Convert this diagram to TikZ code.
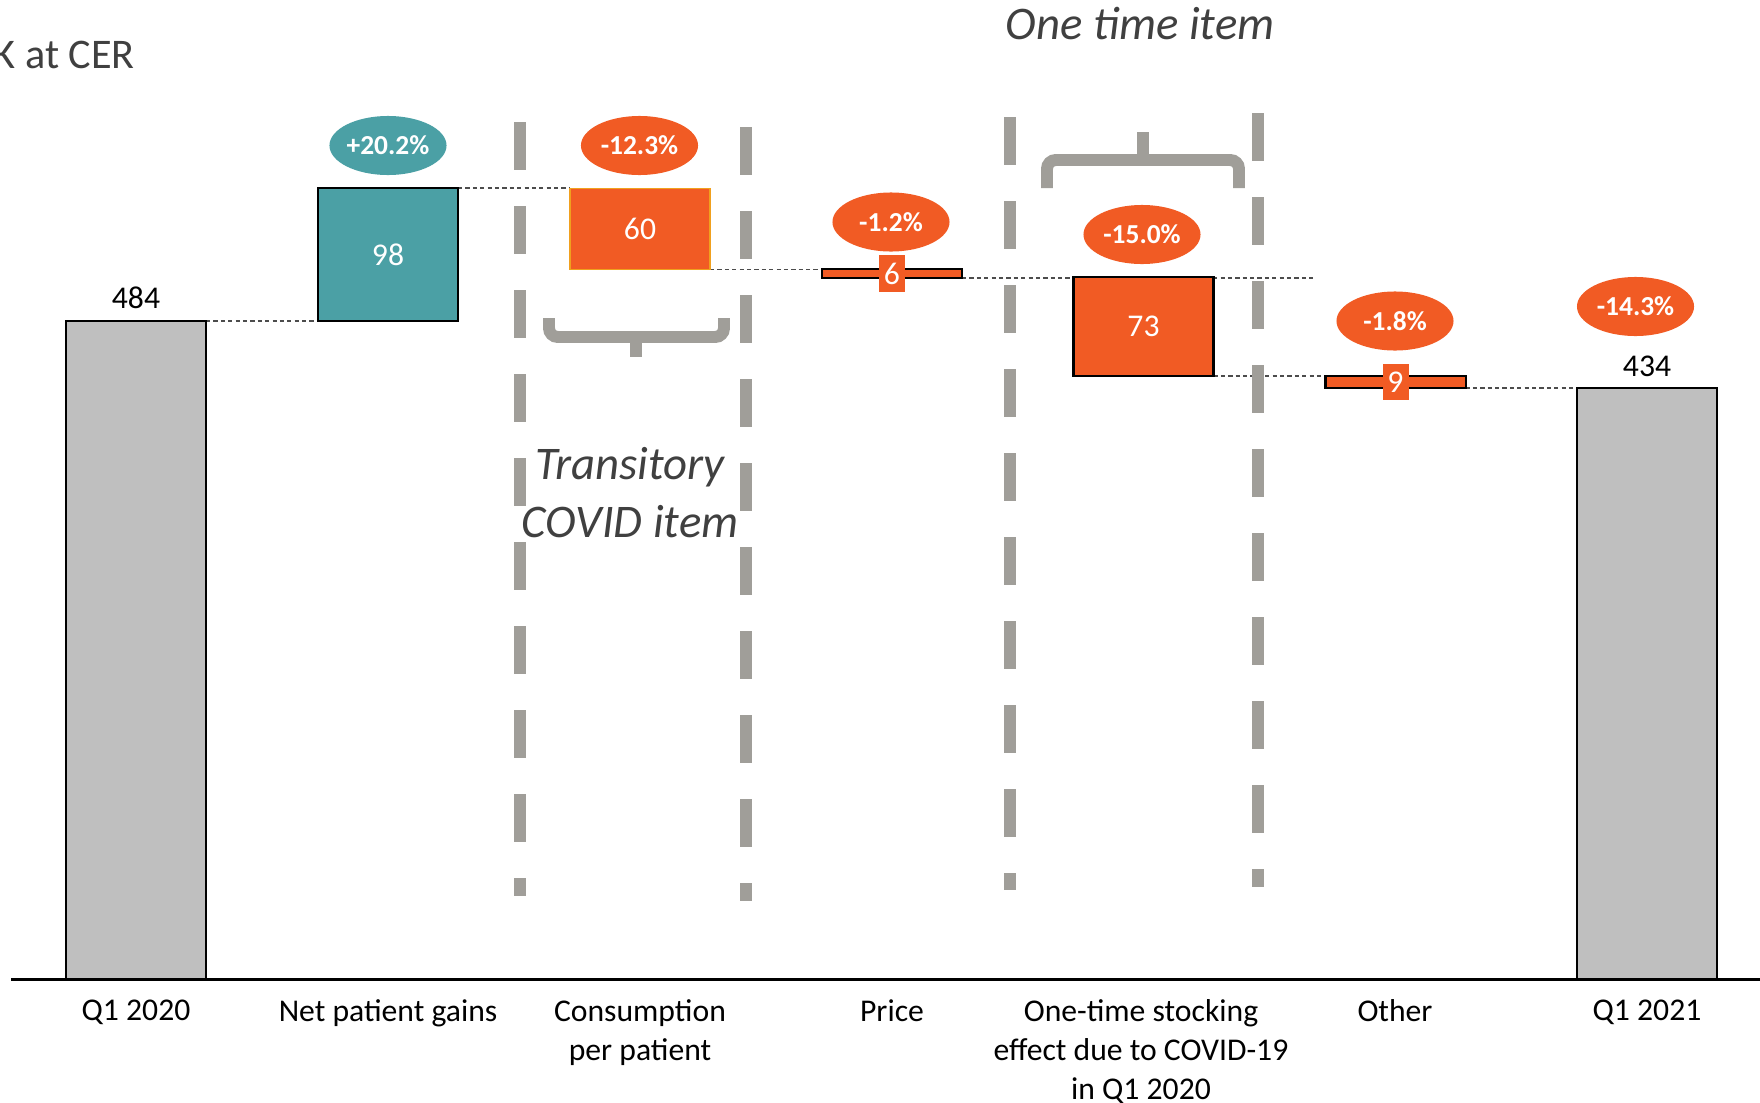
\documentclass[tikz,border=0pt]{standalone}
\usepackage{fontspec}
\setmainfont{Carlito}
\usepackage{tikz}
\usetikzlibrary{shapes,positioning,backgrounds}

\definecolor{barteal}{RGB}{75,160,165}
\definecolor{barorange}{RGB}{241,91,36}
\definecolor{bargray}{RGB}{191,191,191}
\definecolor{sepgray}{RGB}{160,158,153}
\definecolor{edgeamber}{RGB}{240,160,30}
\definecolor{txtgray}{RGB}{64,64,64}

\newcommand{\numfont}{\fontsize{9}{11}\selectfont}
\newcommand{\pctfont}{\fontsize{7.8}{9}\selectfont\bfseries}
\newcommand{\notefont}{\fontsize{13.3}{16.5}\selectfont\itshape}

\begin{document}
\begin{tikzpicture}[
    x=0.01cm, y=-0.01cm,
    bar/.style={rectangle, draw=black, line width=0.6pt, minimum width=1.4cm, inner sep=0pt, outer sep=0pt, text=white, font=\numfont},
    pct/.style={ellipse, fill=barorange, minimum width=1.17cm, minimum height=0.59cm, inner sep=0pt, text=white, font=\pctfont},
    tag/.style={rectangle, fill=barorange, minimum width=0.26cm, minimum height=0.36cm, inner sep=0pt, text=white, font=\numfont},
    guide/.style={draw=black!70, line width=0.4pt, dash pattern=on 1.2pt off 0.9pt},
    sepline/.style={draw=sepgray, line width=3.4pt, dash pattern=on 13.66pt off 10.24pt},
    curly/.style={draw=sepgray, line width=3.4pt, rounded corners=2.5pt},
    note/.style={font=\notefont, text=txtgray},
    xlbl/.style={anchor=north, align=center, inner sep=0pt, font=\numfont}
]
\useasboundingbox (0,0) rectangle (1760,1103);

% grey separators and braces
\draw[sepline] (520,122) -- (520,896);
\draw[sepline] (746,127) -- (746,901);
\draw[sepline] (1010,117) -- (1010,890);
\draw[sepline] (1258,113) -- (1258,887);
\draw[curly] (549,318) |- (636,337) -| (724,318);
\draw[curly] (636,337) -- (636,357);
\draw[curly] (1047,188) |- (1143,160) -| (1239,188);
\draw[curly] (1143,160) -- (1143,132);

% bars
\node[bar, fill=bargray, minimum height=6.58cm] (q20) at (136,650) {};
\node[bar, fill=barteal, minimum height=1.33cm] (gains) at (388,254.5) {98};
\node[bar, fill=barorange, draw=edgeamber, line width=0.45pt, minimum height=0.81cm] (cons) at (640,229) {60};
\node[bar, fill=barorange, minimum height=0.09cm] (price) at (892,273.5) {};
\node[bar, fill=barorange, minimum height=0.99cm] (stock) at (1143.5,326.5) {73};
\node[bar, fill=barorange, minimum height=0.12cm] (other) at (1395.5,382) {};
\node[bar, fill=bargray, minimum height=5.91cm] (q21) at (1647,683.5) {};
\node[tag] (t6) at (price) {6};
\node[tag] (t9) at (other) {9};

% bridge lines
\coordinate (pend) at (1313,277);
\begin{scope}[on background layer]
\draw[guide] (q20.north east) -- (q20.north east -| gains.west);
\draw[guide] (gains.north east) -- (gains.north east -| cons.west);
\draw[guide] (cons.south east) -- (cons.south east -| price.west);
\draw[guide] (price.south east) -- (price.south east -| pend);
\draw[guide] (stock.south east) -- (stock.south east -| other.west);
\draw[guide] (other.south east) -- (other.south east -| q21.west);
\end{scope}

% values and changes
\node[font=\numfont] (v484) at (136,298) {484};
\node[font=\numfont] (v434) at (1647,366) {434};
\node[pct, fill=barteal] (p1) at (388,145.5) {+20.2\%};
\node[pct] (p2) at (639.5,145.5) {-12.3\%};
\node[pct] (p3) at (891,222) {-1.2\%};
\node[pct] (p4) at (1142,234.5) {-15.0\%};
\node[pct] (p5) at (1395,321) {-1.8\%};
\node[pct] (p6) at (1635.5,306.5) {-14.3\%};

% notes
\node[note, anchor=base] (onetime) at (1140,40) {One time item};
\node[note, align=center, anchor=north, inner sep=0pt] (covid) at (630,447) {Transitory\\COVID item};
\node[font=\fontsize{12}{14}\selectfont, text=txtgray, anchor=base west, inner sep=0pt] (unit) at (-7,68) {K at CER};

% axis
\draw[line width=0.85pt] (11,979) -- (1760,979);
\node[xlbl] (l1) at (136,999) {Q1 2020};
\node[xlbl] (l2) at (388,999) {Net patient gains};
\node[xlbl] (l3) at (640,999) {Consumption\\per patient};
\node[xlbl] (l4) at (892,999) {Price};
\node[xlbl] (l5) at (1141,999) {One-time stocking\\effect due to COVID-19\\in Q1 2020};
\node[xlbl] (l6) at (1395,999) {Other};
\node[xlbl] (l7) at (1647,999) {Q1 2021};
\end{tikzpicture}
\end{document}
